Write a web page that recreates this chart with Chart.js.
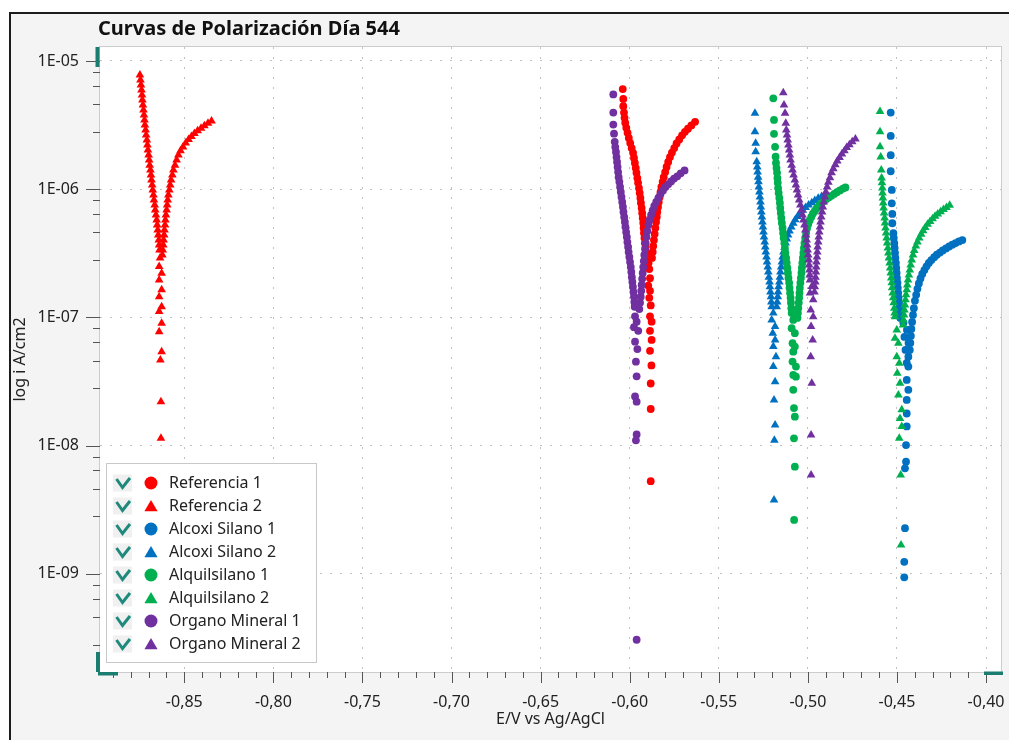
<!DOCTYPE html>
<html>
<head>
<meta charset="utf-8">
<script src="https://cdn.jsdelivr.net/npm/chart.js@4.4.1/dist/chart.umd.min.js"></script>
<style>
  html, body { margin: 0; padding: 0; background: #ffffff; }
  #c { display: block; }
</style>
</head>
<body>
<canvas id="c" width="1009" height="740"></canvas>
<script>
// ---------- DATA ----------
const chartTitle = 'Curvas de Polarización Día 544';
const xTitle = 'E/V vs Ag/AgCl';
const yTitle = 'log i A/cm2';
const seriesNames = ['Referencia 1', 'Referencia 2', 'Alcoxi Silano 1', 'Alcoxi Silano 2',
                     'Alquilsilano 1', 'Alquilsilano 2', 'Organo Mineral 1', 'Organo Mineral 2'];
const xTickValues = [-0.85, -0.80, -0.75, -0.70, -0.65, -0.60, -0.55, -0.50, -0.45, -0.40];
const yTickValues = [1e-5, 1e-6, 1e-7, 1e-8, 1e-9];

// Referencia 1 (E in V, i in A/cm2)
const ref1E = [-0.6039,-0.6036,-0.6036,-0.6032,
  -0.6029,-0.6025,-0.6019,-0.6012,-0.6005,-0.5997,-0.5989,-0.5981,-0.5976,-0.5971,-0.5966,-0.5962,-0.5957,-0.5953,-0.5948,-0.5944,-0.5940,-0.5937,-0.5933,-0.5930,-0.5927,-0.5924,-0.5922,-0.5920,-0.5917,-0.5915,-0.5911,-0.5906,-0.5900,-0.5894,
  -0.5890,-0.5886,-0.5896,-0.5886,-0.5890,-0.5882,-0.5886,-0.5877,-0.5886,-0.5877,-0.5886,-0.5878,-0.5882,-0.5882,-0.5882,
  -0.5875,-0.5871,-0.5868,-0.5864,-0.5860,-0.5856,-0.5852,-0.5848,-0.5845,-0.5841,-0.5837,-0.5832,-0.5827,-0.5822,-0.5815,-0.5809,-0.5801,-0.5793,-0.5784,-0.5774,-0.5763,-0.5750,-0.5737,-0.5722,-0.5706,-0.5690,-0.5673,-0.5654,-0.5633];
const ref1I = [6.04e-6,5.06e-6,4.44e-6,3.96e-6,
  3.60e-6,3.29e-6,3.01e-6,2.75e-6,2.51e-6,2.29e-6,2.09e-6,1.92e-6,1.75e-6,1.60e-6,1.46e-6,1.34e-6,1.22e-6,1.12e-6,1.02e-6,9.34e-7,8.54e-7,7.81e-7,7.13e-7,6.52e-7,5.96e-7,5.45e-7,4.98e-7,4.55e-7,4.16e-7,3.80e-7,3.48e-7,3.18e-7,2.91e-7,2.66e-7,
  2.38e-7,2.02e-7,1.77e-7,1.61e-7,1.42e-7,1.24e-7,1.02e-7,9.25e-8,7.85e-8,6.67e-8,5.48e-8,4.22e-8,3.05e-8,1.93e-8,5.28e-9,
  2.91e-7,3.24e-7,3.60e-7,4.01e-7,4.47e-7,4.98e-7,5.55e-7,6.07e-7,6.64e-7,7.26e-7,7.95e-7,8.69e-7,9.51e-7,1.04e-6,1.14e-6,1.24e-6,1.36e-6,1.49e-6,1.63e-6,1.78e-6,1.93e-6,2.09e-6,2.27e-6,2.44e-6,2.63e-6,2.80e-6,2.96e-6,3.14e-6,3.35e-6];

// Referencia 2
const ref2E = [-0.8749,-0.8746,-0.8743,-0.8740,-0.8737,-0.8735,-0.8732,-0.8729,-0.8726,-0.8723,-0.8721,-0.8717,-0.8714,-0.8710,-0.8707,-0.8704,-0.8700,-0.8697,-0.8694,-0.8690,-0.8687,-0.8684,-0.8680,-0.8677,-0.8673,-0.8670,-0.8666,-0.8663,-0.8659,-0.8655,-0.8652,-0.8649,-0.8646,-0.8643,-0.8641,-0.8639,
  -0.8636,-0.8641,-0.8627,-0.8641,-0.8627,-0.8641,-0.8627,-0.8641,-0.8627,-0.8641,-0.8627,-0.8634,-0.8631,-0.8631,
  -0.8623,-0.8621,-0.8618,-0.8616,-0.8613,-0.8611,-0.8608,-0.8606,-0.8603,-0.8599,-0.8596,-0.8593,-0.8589,-0.8584,-0.8579,-0.8574,-0.8567,-0.8561,-0.8552,-0.8543,-0.8533,-0.8521,-0.8507,-0.8492,-0.8476,-0.8460,-0.8443,-0.8425,-0.8406,-0.8387,-0.8367,-0.8347];
const ref2I = [7.78e-6,7.11e-6,6.50e-6,5.94e-6,5.43e-6,4.96e-6,4.54e-6,4.15e-6,3.79e-6,3.47e-6,3.17e-6,2.90e-6,2.65e-6,2.42e-6,2.21e-6,2.02e-6,1.85e-6,1.69e-6,1.54e-6,1.41e-6,1.29e-6,1.18e-6,1.08e-6,9.86e-7,9.01e-7,8.24e-7,7.53e-7,6.88e-7,6.29e-7,5.75e-7,5.26e-7,4.80e-7,4.39e-7,4.01e-7,3.67e-7,3.35e-7,
  2.91e-7,2.49e-7,2.21e-7,1.96e-7,1.64e-7,1.45e-7,1.21e-7,1.11e-7,9.0e-8,7.74e-8,5.40e-8,4.65e-8,2.20e-8,1.14e-8,
  3.07e-7,3.35e-7,3.67e-7,4.01e-7,4.39e-7,4.80e-7,5.26e-7,5.75e-7,6.29e-7,6.88e-7,7.53e-7,8.24e-7,9.01e-7,9.86e-7,1.08e-6,1.18e-6,1.29e-6,1.41e-6,1.54e-6,1.69e-6,1.85e-6,1.99e-6,2.13e-6,2.29e-6,2.44e-6,2.58e-6,2.72e-6,2.85e-6,2.99e-6,3.13e-6,3.27e-6,3.40e-6];

// Alcoxi Silano 1
const alc1E = [-0.4535,-0.4535,-0.4535,-0.4535,-0.4529,-0.4529,-0.4526,-0.4526,-0.4520,
  -0.4518,-0.4515,-0.4513,-0.4511,-0.4509,-0.4506,-0.4504,-0.4502,-0.4500,-0.4497,-0.4495,-0.4493,-0.4491,-0.4488,-0.4486,-0.4484,-0.4481,
  -0.4464,-0.4444,-0.4458,-0.4435,-0.4452,-0.4436,-0.4445,-0.4436,-0.4445,-0.4436,-0.4445,-0.4445,-0.4445,-0.4449,-0.4449,-0.4455,-0.4455,-0.4459,-0.4459,
  -0.4428,-0.4425,-0.4422,-0.4419,-0.4415,-0.4410,-0.4405,-0.4399,-0.4392,-0.4385,-0.4377,-0.4368,-0.4358,-0.4346,-0.4334,-0.4321,-0.4307,-0.4291,-0.4276,-0.4259,-0.4243,-0.4225,-0.4207,-0.4189,-0.4171,-0.4152,-0.4133];
const alc1I = [3.96e-6,2.60e-6,1.84e-6,1.38e-6,9.86e-7,7.76e-7,6.41e-7,5.42e-7,4.53e-7,
  4.16e-7,3.80e-7,3.48e-7,3.18e-7,2.91e-7,2.66e-7,2.43e-7,2.22e-7,2.03e-7,1.86e-7,1.70e-7,1.55e-7,1.42e-7,1.30e-7,1.18e-7,1.08e-7,9.9e-8,
  9.05e-8,7.98e-8,7.04e-8,6.32e-8,5.57e-8,4.94e-8,4.42e-8,4.13e-8,3.25e-8,2.72e-8,2.27e-8,1.78e-8,1.41e-8,1.01e-8,7.49e-9,6.65e-9,2.27e-9,1.24e-9,9.38e-10,
  5.57e-8,6.32e-8,7.17e-8,8.13e-8,9.21e-8,1.045e-7,1.18e-7,1.35e-7,1.50e-7,1.67e-7,1.84e-7,2.01e-7,2.18e-7,2.34e-7,2.50e-7,2.66e-7,2.80e-7,2.95e-7,3.08e-7,3.20e-7,3.33e-7,3.45e-7,3.57e-7,3.69e-7,3.80e-7,3.91e-7,4.01e-7];

// Alcoxi Silano 2
const alc2E = [-0.5297,-0.5297,-0.5293,-0.5293,-0.5287,
  -0.5284,-0.5282,-0.5279,-0.5277,-0.5275,-0.5272,-0.5269,-0.5266,-0.5264,-0.5261,-0.5258,-0.5255,-0.5252,-0.5249,-0.5246,-0.5242,-0.5239,-0.5236,-0.5232,-0.5229,-0.5225,-0.5222,-0.5219,-0.5215,-0.5213,-0.5210,-0.5207,-0.5205,-0.5203,
  -0.5194,-0.5203,-0.5184,-0.5197,-0.5184,-0.5194,-0.5179,-0.5194,-0.5184,-0.5190,-0.5184,-0.5188,-0.5190,
  -0.5175,-0.5172,-0.5169,-0.5167,-0.5164,-0.5160,-0.5157,-0.5154,-0.5150,-0.5146,-0.5142,-0.5137,-0.5131,-0.5125,-0.5118,-0.5111,-0.5103,-0.5093,-0.5082,-0.5071,-0.5058,-0.5044,-0.5028,-0.5013,-0.4996,-0.4978,-0.4961,-0.4942,-0.4923,-0.4904];
const alc2I = [3.91e-6,2.81e-6,2.28e-6,1.96e-6,1.64e-6,
  1.49e-6,1.36e-6,1.24e-6,1.14e-6,1.04e-6,9.51e-7,8.69e-7,7.95e-7,7.26e-7,6.64e-7,6.07e-7,5.55e-7,5.07e-7,4.63e-7,4.24e-7,3.87e-7,3.54e-7,3.23e-7,2.96e-7,2.70e-7,2.47e-7,2.26e-7,2.06e-7,1.89e-7,1.73e-7,1.58e-7,1.45e-7,1.32e-7,1.21e-7,
  1.08e-7,9.55e-8,8.47e-8,7.53e-8,6.67e-8,5.92e-8,4.94e-8,4.13e-8,3.15e-8,2.27e-8,1.45e-8,1.1e-8,3.76e-9,
  1.21e-7,1.32e-7,1.45e-7,1.58e-7,1.73e-7,1.89e-7,2.06e-7,2.26e-7,2.47e-7,2.70e-7,2.96e-7,3.23e-7,3.51e-7,3.80e-7,4.08e-7,4.39e-7,4.71e-7,5.07e-7,5.42e-7,5.77e-7,6.12e-7,6.48e-7,6.84e-7,7.20e-7,7.53e-7,7.85e-7,8.17e-7,8.48e-7,8.78e-7,9.08e-7];

// Alquilsilano 1
const alq1E = [-0.5194,-0.5190,-0.5190,-0.5184,-0.5181,
  -0.5179,-0.5176,-0.5173,-0.5171,-0.5169,-0.5167,-0.5164,-0.5160,-0.5157,-0.5155,-0.5152,-0.5149,-0.5146,-0.5142,-0.5139,-0.5136,-0.5132,-0.5129,-0.5126,-0.5122,-0.5119,-0.5115,-0.5112,-0.5109,-0.5105,-0.5103,-0.5100,-0.5097,-0.5095,-0.5093,-0.5091,
  -0.5082,-0.5091,-0.5073,-0.5086,-0.5073,-0.5082,-0.5086,-0.5067,-0.5082,-0.5067,-0.5082,-0.5078,-0.5073,-0.5078,-0.5073,-0.5077,
  -0.5059,-0.5056,-0.5054,-0.5051,-0.5049,-0.5047,-0.5045,-0.5042,-0.5039,-0.5036,-0.5034,-0.5031,-0.5028,-0.5025,-0.5022,-0.5019,-0.5015,-0.5010,-0.5005,-0.4998,-0.4990,-0.4981,-0.4972,-0.4961,-0.4950,-0.4938,-0.4925,-0.4912,-0.4898,-0.4883,-0.4868,-0.4852,-0.4837,-0.4820,-0.4803,-0.4789];
const alq1I = [5.11e-6,3.47e-6,2.70e-6,2.14e-6,1.79e-6,
  1.60e-6,1.46e-6,1.34e-6,1.22e-6,1.12e-6,1.02e-6,9.34e-7,8.54e-7,7.81e-7,7.13e-7,6.52e-7,5.96e-7,5.45e-7,4.98e-7,4.55e-7,4.16e-7,3.80e-7,3.48e-7,3.18e-7,2.91e-7,2.66e-7,2.43e-7,2.22e-7,2.03e-7,1.86e-7,1.70e-7,1.55e-7,1.42e-7,1.30e-7,1.18e-7,1.08e-7,
  9.55e-8,8.23e-8,7.53e-8,6.29e-8,5.92e-8,5.40e-8,4.52e-8,4.13e-8,3.56e-8,3.45e-8,2.72e-8,1.96e-8,1.68e-8,1.14e-8,6.85e-9,2.63e-9,
  9.9e-8,1.08e-7,1.18e-7,1.30e-7,1.42e-7,1.55e-7,1.70e-7,1.86e-7,2.03e-7,2.22e-7,2.43e-7,2.66e-7,2.91e-7,3.18e-7,3.48e-7,3.80e-7,4.16e-7,4.55e-7,4.93e-7,5.33e-7,5.70e-7,6.07e-7,6.43e-7,6.77e-7,7.11e-7,7.44e-7,7.75e-7,8.05e-7,8.33e-7,8.60e-7,8.88e-7,9.18e-7,9.48e-7,9.77e-7,1.01e-6,1.03e-6];

// Alquilsilano 2
const alq2E = [-0.4595,-0.4595,-0.4595,-0.4591,-0.4588,
  -0.4586,-0.4584,-0.4582,-0.4581,-0.4579,-0.4577,-0.4575,-0.4572,-0.4569,-0.4567,-0.4564,-0.4561,-0.4558,-0.4555,-0.4551,-0.4548,-0.4545,-0.4541,-0.4538,-0.4535,-0.4532,-0.4529,-0.4527,-0.4524,-0.4521,-0.4518,-0.4515,-0.4513,-0.4511,
  -0.4501,-0.4511,-0.4492,-0.4501,-0.4487,-0.4498,-0.4483,-0.4492,-0.4473,-0.4483,-0.4473,-0.4487,-0.4479,-0.4477,
  -0.4466,-0.4463,-0.4460,-0.4458,-0.4455,-0.4452,-0.4449,-0.4445,-0.4442,-0.4438,-0.4433,-0.4428,-0.4423,-0.4417,-0.4410,-0.4403,-0.4394,-0.4385,-0.4375,-0.4364,-0.4353,-0.4341,-0.4328,-0.4314,-0.4300,-0.4286,-0.4271,-0.4255,-0.4239,-0.4222,-0.4204];
const alq2I = [4.03e-6,2.81e-6,2.14e-6,1.78e-6,1.41e-6,
  1.22e-6,1.12e-6,1.02e-6,9.34e-7,8.54e-7,7.81e-7,7.13e-7,6.52e-7,5.96e-7,5.45e-7,4.98e-7,4.55e-7,4.16e-7,3.80e-7,3.48e-7,3.18e-7,2.91e-7,2.66e-7,2.43e-7,2.22e-7,2.03e-7,1.86e-7,1.70e-7,1.55e-7,1.42e-7,1.30e-7,1.18e-7,1.08e-7,1.01e-7,
  7.98e-8,6.88e-8,6.29e-8,4.94e-8,4.39e-8,3.67e-8,3.06e-8,2.48e-8,1.90e-8,1.63e-8,1.41e-8,1.14e-8,5.90e-9,1.68e-9,
  8.73e-8,9.55e-8,1.045e-7,1.14e-7,1.25e-7,1.37e-7,1.50e-7,1.64e-7,1.79e-7,1.96e-7,2.14e-7,2.34e-7,2.56e-7,2.80e-7,3.07e-7,3.32e-7,3.60e-7,3.87e-7,4.16e-7,4.45e-7,4.73e-7,5.03e-7,5.32e-7,5.59e-7,5.88e-7,6.15e-7,6.41e-7,6.66e-7,6.93e-7,7.21e-7,7.49e-7];

// Organo Mineral 1
const org1E = [-0.6092,-0.6092,-0.6092,-0.6088,-0.6084,
  -0.6081,-0.6077,-0.6074,-0.6071,-0.6068,-0.6065,-0.6062,-0.6058,-0.6054,-0.6050,-0.6046,-0.6042,-0.6038,-0.6035,-0.6031,-0.6027,-0.6024,-0.6020,-0.6016,-0.6013,-0.6009,-0.6006,-0.6002,-0.5998,-0.5994,-0.5991,-0.5988,-0.5985,-0.5982,-0.5979,-0.5976,-0.5974,-0.5972,
  -0.5970,-0.5961,-0.5976,-0.5952,-0.5970,-0.5957,-0.5965,-0.5961,-0.5970,-0.5961,-0.5961,-0.5965,-0.5961,
  -0.5946,-0.5942,-0.5938,-0.5935,-0.5933,-0.5930,-0.5927,-0.5924,-0.5921,-0.5918,-0.5914,-0.5910,-0.5906,-0.5901,-0.5895,-0.5888,-0.5880,-0.5871,-0.5862,-0.5851,-0.5839,-0.5827,-0.5813,-0.5799,-0.5784,-0.5768,-0.5751,-0.5733,-0.5714,-0.5692];
const org1I = [5.48e-6,3.96e-6,3.19e-6,2.71e-6,2.34e-6,
  2.13e-6,1.95e-6,1.78e-6,1.63e-6,1.49e-6,1.36e-6,1.24e-6,1.14e-6,1.04e-6,9.51e-7,8.69e-7,7.95e-7,7.26e-7,6.64e-7,6.07e-7,5.55e-7,5.07e-7,4.63e-7,4.24e-7,3.87e-7,3.54e-7,3.23e-7,2.96e-7,2.70e-7,2.47e-7,2.26e-7,2.06e-7,1.89e-7,1.73e-7,1.58e-7,1.45e-7,1.32e-7,1.21e-7,
  1.02e-7,9.25e-8,8.38e-8,7.85e-8,6.46e-8,5.66e-8,4.51e-8,3.47e-8,2.42e-8,2.20e-8,1.22e-8,1.1e-8,3.06e-10,
  1.16e-7,1.30e-7,1.45e-7,1.61e-7,1.79e-7,2.00e-7,2.22e-7,2.47e-7,2.75e-7,3.07e-7,3.41e-7,3.80e-7,4.24e-7,4.71e-7,5.26e-7,5.75e-7,6.29e-7,6.82e-7,7.39e-7,7.95e-7,8.54e-7,9.18e-7,9.77e-7,1.04e-6,1.09e-6,1.15e-6,1.21e-6,1.26e-6,1.33e-6,1.40e-6];

// Organo Mineral 2
const org2E = [-0.5138,-0.5134,-0.5128,-0.5124,
  -0.5121,-0.5117,-0.5113,-0.5109,-0.5105,-0.5101,-0.5097,-0.5091,-0.5086,-0.5080,-0.5073,-0.5067,-0.5061,-0.5055,-0.5049,-0.5042,-0.5036,-0.5030,-0.5025,-0.5019,-0.5014,-0.5010,-0.5007,-0.5004,-0.5001,-0.4998,-0.4995,-0.4993,-0.4991,-0.4990,-0.4988,
  -0.4978,-0.4988,-0.4970,-0.4984,-0.4970,-0.4982,-0.4973,-0.4984,-0.4978,-0.4982,-0.4982,
  -0.4963,-0.4961,-0.4958,-0.4957,-0.4955,-0.4953,-0.4952,-0.4949,-0.4947,-0.4945,-0.4942,-0.4939,-0.4936,-0.4932,-0.4929,-0.4925,-0.4920,-0.4916,-0.4911,-0.4905,-0.4899,-0.4892,-0.4885,-0.4876,-0.4867,-0.4857,-0.4846,-0.4835,-0.4822,-0.4809,-0.4795,-0.4782,-0.4767,-0.4751,-0.4733];
const org2I = [5.66e-6,4.54e-6,3.91e-6,3.27e-6,
  2.90e-6,2.65e-6,2.42e-6,2.21e-6,2.02e-6,1.85e-6,1.69e-6,1.54e-6,1.41e-6,1.29e-6,1.18e-6,1.08e-6,9.86e-7,9.01e-7,8.24e-7,7.53e-7,6.88e-7,6.29e-7,5.75e-7,5.26e-7,4.80e-7,4.39e-7,4.01e-7,3.67e-7,3.35e-7,3.07e-7,2.80e-7,2.56e-7,2.34e-7,2.14e-7,1.96e-7,
  1.74e-7,1.55e-7,1.37e-7,1.14e-7,1.01e-7,8.47e-8,6.67e-8,4.94e-8,3.06e-8,1.21e-8,5.90e-9,
  1.58e-7,1.73e-7,1.89e-7,2.06e-7,2.26e-7,2.47e-7,2.70e-7,2.96e-7,3.23e-7,3.54e-7,3.87e-7,4.24e-7,4.63e-7,5.07e-7,5.55e-7,6.07e-7,6.64e-7,7.26e-7,7.95e-7,8.69e-7,9.51e-7,1.04e-6,1.13e-6,1.23e-6,1.34e-6,1.44e-6,1.55e-6,1.66e-6,1.77e-6,1.88e-6,1.99e-6,2.11e-6,2.22e-6,2.34e-6,2.46e-6];

// ---------- STYLE ----------
const FONT = "'Noto Sans', 'Open Sans', 'DejaVu Sans', sans-serif";
const RED = '#FF0000', BLUE = '#0070C0', GREEN = '#00B050', PURPLE = '#7030A0';
const TEAL = '#1b7d70';

const seriesE = [ref1E, ref2E, alc1E, alc2E, alq1E, alq2E, org1E, org2E];
const seriesI = [ref1I, ref2I, alc1I, alc2I, alq1I, alq2I, org1I, org2I];
const seriesColors = [RED, RED, BLUE, BLUE, GREEN, GREEN, PURPLE, PURPLE];
const seriesShapes = ['circle', 'triangle', 'circle', 'triangle', 'circle', 'triangle', 'circle', 'triangle'];

const datasets = seriesNames.map((name, k) => ({
  label: name,
  data: seriesE[k].map((e, j) => ({ x: e, y: seriesI[k][j] })),
  pointStyle: seriesShapes[k],
  pointRadius: seriesShapes[k] === 'circle' ? 3.9 : 5.0,
  pointHoverRadius: seriesShapes[k] === 'circle' ? 3.9 : 5.0,
  backgroundColor: seriesColors[k],
  borderColor: seriesColors[k],
  borderWidth: 0,
  showLine: false,
  order: seriesNames.length - k
}));

function drawTriangle(ctx, x, y, r) {
  const t = Math.PI * 2 / 3;
  ctx.beginPath();
  for (let i = 0; i < 3; i++) {
    const a = i * t;
    const px = x + Math.sin(a) * r, py = y - Math.cos(a) * r;
    if (i === 0) ctx.moveTo(px, py); else ctx.lineTo(px, py);
  }
  ctx.closePath();
  ctx.fill();
}

const decoPlugin = {
  id: 'deco',
  beforeDraw(chart) {
    const ctx = chart.ctx, a = chart.chartArea, W = chart.width, H = chart.height;
    ctx.save();
    ctx.fillStyle = '#ffffff';
    ctx.fillRect(0, 0, W, H);
    ctx.fillStyle = '#f4f4f4';
    ctx.fillRect(11, 14, W - 11, H - 14);
    ctx.fillStyle = '#1c1c1c';
    ctx.fillRect(9, 12, 2, H - 12);
    ctx.fillRect(9, 12, W - 9, 2);
    ctx.fillStyle = '#ffffff';
    ctx.fillRect(a.left, a.top, a.right - a.left, a.bottom - a.top);
    ctx.font = 'bold 20px ' + FONT;
    ctx.fillStyle = '#111111';
    ctx.textBaseline = 'middle';
    ctx.textAlign = 'left';
    ctx.fillText(chartTitle, 98, 29);
    ctx.restore();
  },
  afterDraw(chart) {
    const ctx = chart.ctx, a = chart.chartArea;
    const xs = chart.scales.x, ys = chart.scales.y;
    ctx.save();
    // plot border
    ctx.strokeStyle = '#cccccc';
    ctx.lineWidth = 1;
    ctx.strokeRect(a.left - 0.5, a.top - 0.5, a.right - a.left + 1, a.bottom - a.top + 1);
    // x tick marks (major every 0.05, minor every 0.01)
    ctx.strokeStyle = '#555555';
    ctx.beginPath();
    for (let k = -89; k <= -40; k++) {
      const px = Math.round(xs.getPixelForValue(k / 100)) + 0.5;
      if (px < a.left || px > a.right) continue;
      const len = (k % 5 === 0) ? 11 : 6;
      ctx.moveTo(px, a.bottom);
      ctx.lineTo(px, a.bottom + len);
    }
    // y tick marks
    const minorMant = [8.2, 6.4, 4.6, 2.8];
    for (let e = -5; e >= -10; e--) {
      const v = Math.pow(10, e);
      if (v >= ys.min && v <= ys.max) {
        const py = Math.round(ys.getPixelForValue(v)) + 0.5;
        ctx.moveTo(a.left - 14, py);
        ctx.lineTo(a.left, py);
      }
      for (const m of minorMant) {
        const mv = m * Math.pow(10, e - 1);
        if (mv < ys.min || mv > ys.max) continue;
        const py = Math.round(ys.getPixelForValue(mv)) + 0.5;
        ctx.moveTo(a.left - 7, py);
        ctx.lineTo(a.left, py);
      }
    }
    ctx.stroke();
    // teal handles
    ctx.fillStyle = TEAL;
    ctx.fillRect(a.left - 4.5, a.top, 4, 20);
    ctx.fillRect(a.left - 4, a.bottom - 20, 4, 20);
    ctx.fillRect(a.left - 2, a.bottom, 20, 3.5);
    ctx.fillRect(a.right - 17, a.bottom - 0.5, 19, 3.5);
    // legend
    const lx = 106, ly = 463, lw = 210, lh = 199;
    ctx.fillStyle = '#ffffff';
    ctx.fillRect(lx, ly, lw, lh);
    ctx.strokeStyle = '#c8c8c8';
    ctx.lineWidth = 1;
    ctx.strokeRect(lx + 0.5, ly + 0.5, lw, lh);
    ctx.font = '16px ' + FONT;
    ctx.textBaseline = 'middle';
    ctx.textAlign = 'left';
    chart.data.datasets.forEach((ds, i) => {
      const y = 483 + 23 * i;
      ctx.fillStyle = '#f0f0f0';
      ctx.fillRect(113, y - 8.5, 19, 17);
      ctx.strokeStyle = '#1f8a7c';
      ctx.lineWidth = 3;
      ctx.lineJoin = 'miter';
      ctx.beginPath();
      ctx.moveTo(116.5, y - 4);
      ctx.lineTo(122.5, y + 4.5);
      ctx.lineTo(130, y - 5);
      ctx.stroke();
      ctx.fillStyle = ds.backgroundColor;
      if (ds.pointStyle === 'triangle') {
        drawTriangle(ctx, 151, y + 1.5, 7.6);
      } else {
        ctx.beginPath();
        ctx.arc(151, y, 6.5, 0, Math.PI * 2);
        ctx.fill();
      }
      ctx.fillStyle = '#222222';
      ctx.fillText(ds.label, 169, y);
    });
    ctx.restore();
  }
};

new Chart(document.getElementById('c'), {
  type: 'scatter',
  data: { datasets },
  plugins: [decoPlugin],
  options: {
    responsive: false,
    animation: false,
    devicePixelRatio: 1,
    events: [],
    layout: { padding: { left: 11, right: 8, top: 47, bottom: 0 } },
    plugins: {
      legend: { display: false },
      tooltip: { enabled: false },
      title: { display: false }
    },
    scales: {
      x: {
        type: 'linear',
        min: -0.8973,
        max: -0.3916,
        afterBuildTicks: (s) => { s.ticks = xTickValues.map(v => ({ value: v })); },
        afterFit: (s) => { s.height = 68; s.paddingLeft = 0; s.paddingRight = 0; },
        ticks: {
          callback: (v) => Number(v).toFixed(2).replace('.', ','),
          padding: 21,
          color: '#222222',
          font: { family: FONT, size: 16 },
          maxRotation: 0,
          autoSkip: false
        },
        grid: { color: '#c2c2c2', lineWidth: 1, drawTicks: false },
        border: { display: false, dash: [2, 8] },
        title: { display: true, text: xTitle, color: '#222222', font: { family: FONT, size: 16 }, padding: { top: 0, bottom: 11 } }
      },
      y: {
        type: 'logarithmic',
        min: 1.714e-10,
        max: 1.285e-5,
        afterBuildTicks: (s) => { s.ticks = yTickValues.map(v => ({ value: v })); },
        afterFit: (s) => { s.width = 89; s.paddingTop = 0; s.paddingBottom = 0; },
        ticks: {
          callback: (v) => '1E-' + String(Math.round(-Math.log10(v))).padStart(2, '0'),
          padding: 21,
          color: '#222222',
          font: { family: FONT, size: 16 },
          autoSkip: false
        },
        grid: { color: '#c2c2c2', lineWidth: 1, drawTicks: false },
        border: { display: false, dash: [2, 8] },
        title: { display: true, text: yTitle, color: '#222222', font: { family: FONT, size: 16 }, padding: { top: 0, bottom: 0 } }
      }
    }
  }
});
</script>
</body>
</html>
